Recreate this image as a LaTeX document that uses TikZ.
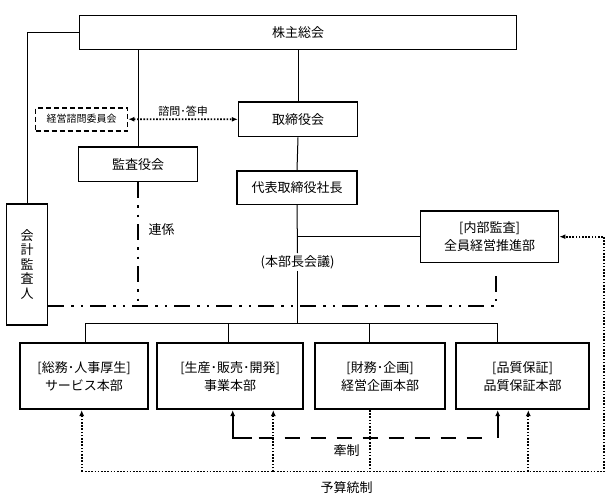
\documentclass[tikz,border=0pt]{standalone}
\usepackage{fontspec}
\setmainfont{Noto Sans CJK JP}
\usetikzlibrary{arrows.meta}
\begin{document}
\begin{tikzpicture}[x=1pt,y=-1pt,
    orgbox/.style={draw, line width=1.4pt, inner sep=0pt, align=center, font=\fontsize{13}{18}\selectfont},
    hqbox/.style={orgbox, line width=2pt, minimum width=#1, minimum height=65.7pt},
    label/.style={inner sep=2pt, font=\fontsize{13}{16}\selectfont},
    link/.style={line width=1pt},
    dotline/.style={line width=1.8pt, dash pattern=on 1.6pt off 1.6pt},
    chainline/.style={line width=2pt, dash pattern=on 16pt off 7pt on 2.5pt off 7pt on 2.5pt off 7pt},
    kensei/.style={line width=2.2pt, dash pattern=on 15pt off 11pt},
    >={Latex[length=6pt,width=5pt]}]
    \useasboundingbox (0,0) rectangle (616,496);
                \node[orgbox, minimum width=437pt, minimum height=33.6pt] (kabu) at (298,32.5) {株主総会};
                \node[orgbox, dashed, line width=1.8pt, dash pattern=on 5pt off 3pt, minimum width=92pt, minimum height=23pt,
                      font=\fontsize{10}{12}\selectfont] (keiei) at (81.5,119.2) {経営諮問委員会};
                \node[orgbox, minimum width=119pt, minimum height=34.7pt] (torishimari) at (298,119.3) {取締役会};
                \node[orgbox, minimum width=119pt, minimum height=34.3pt] (kansa) at (138,164.2) {監査役会};
                \node[orgbox, minimum width=120pt, minimum height=33.3pt] (daihyo) at (297,187.7) {代表取締役社長};
                \node[orgbox, line width=1.6pt, minimum width=138pt, minimum height=51.3pt] (naibu) at (489.6,236.7) {[内部監査]\\全員経営推進部};
                \node[orgbox, minimum width=41pt, minimum height=121pt, font=\fontsize{13}{14.5}\selectfont] (kaikei) at (27.2,264.5) {会\\計\\監\\査\\人};
                \node[label] (honbucho) at (297.5,262) {(本部長会議)};
                \node[hqbox=127.3pt] (hq1) at (84,376.2) {[総務･人事厚生]\\サービス本部};
                \node[hqbox=146pt] (hq2) at (230.2,376.2) {[生産･販売･開発]\\事業本部};
                \node[hqbox=129.7pt] (hq3) at (380,376.2) {[財務･企画]\\経営企画本部};
                \node[hqbox=133.6pt] (hq4) at (522.6,376.2) {[品質保証]\\品質保証本部};
                \node[label] (renkei) at (161.5,230) {連係};
                \node[label] (kenseilbl) at (346.7,450.7) {牽制};
                \node[label] (yosan) at (346.7,488) {予算統制};
                % solid lines
                \draw[link] (kabu.west) -| (kaikei.north);
                \draw[link] (kansa.north |- kabu.south) -- (kansa.north);
                \draw[link] (torishimari.north |- kabu.south) -- (torishimari.north);
                \draw[link] (torishimari.south) -- (daihyo.north);
                \draw[link] (daihyo.south) -- (honbucho.north);
                \draw[link] (daihyo.south |- naibu.west) -- (naibu.west);
                \coordinate (bus) at (297.5,323.3);
                \draw[link] (honbucho.south) -- (bus);
                \coordinate (b1) at (85.3,323.3);
                \coordinate (b2) at (228.7,323.3);
                \coordinate (b3) at (369.4,323.3);
                \coordinate (b4) at (497.8,323.3);
                \draw[link] (b1) -- (b4);
                \foreach \i in {1,...,4}
                    \draw[link] (b\i) -- (b\i |- hq\i.north);
                % advisory
                \draw[dotline, <->] (keiei.east) -- node[label, above, font=\fontsize{11}{13}\selectfont] (shimon) {諮問･答申} (torishimari.west);
                % audit links
                \coordinate (rk) at (496,306);
                \coordinate (nb) at ([yshift=-6pt]naibu.south);
                \draw[chainline, line width=1.4pt] (kansa.south) -- (kansa.south |- rk);
                \draw[chainline] (kaikei.east |- rk) -- (rk) -- (rk |- nb);
                % check between headquarters
                \coordinate (k1) at (232.7,437.7);
                \coordinate (k2) at (497.7,437.7);
                \draw[line width=2.2pt, ->] ([xshift=19pt]k1) -- (k1) -- (k1 |- hq2.south);
                \draw[kensei] ([xshift=26pt]k1) -- ([xshift=-7pt]k2);
                \draw[line width=2.2pt, ->] (k2) -- (k2 |- hq4.south);
                % budget control
                \coordinate (y1) at (81.7,471.5);
                \coordinate (y2) at (273.3,471.5);
                \coordinate (y3) at (370,471.5);
                \coordinate (y4) at (528.3,471.5);
                \coordinate (yr) at (604,471.5);
                \draw[dotline, ->] (y1) -- (yr) |- (naibu.east);
                \draw[dotline, ->] (y1) -- (y1 |- hq1.south);
                \draw[dotline, ->] (y2) -- (y2 |- hq2.south);
                \draw[dotline] (y3 |- hq3.south) -- (y3);
                \draw[dotline, ->] (y4) -- (y4 |- hq4.south);
            \end{tikzpicture}
\end{document}
